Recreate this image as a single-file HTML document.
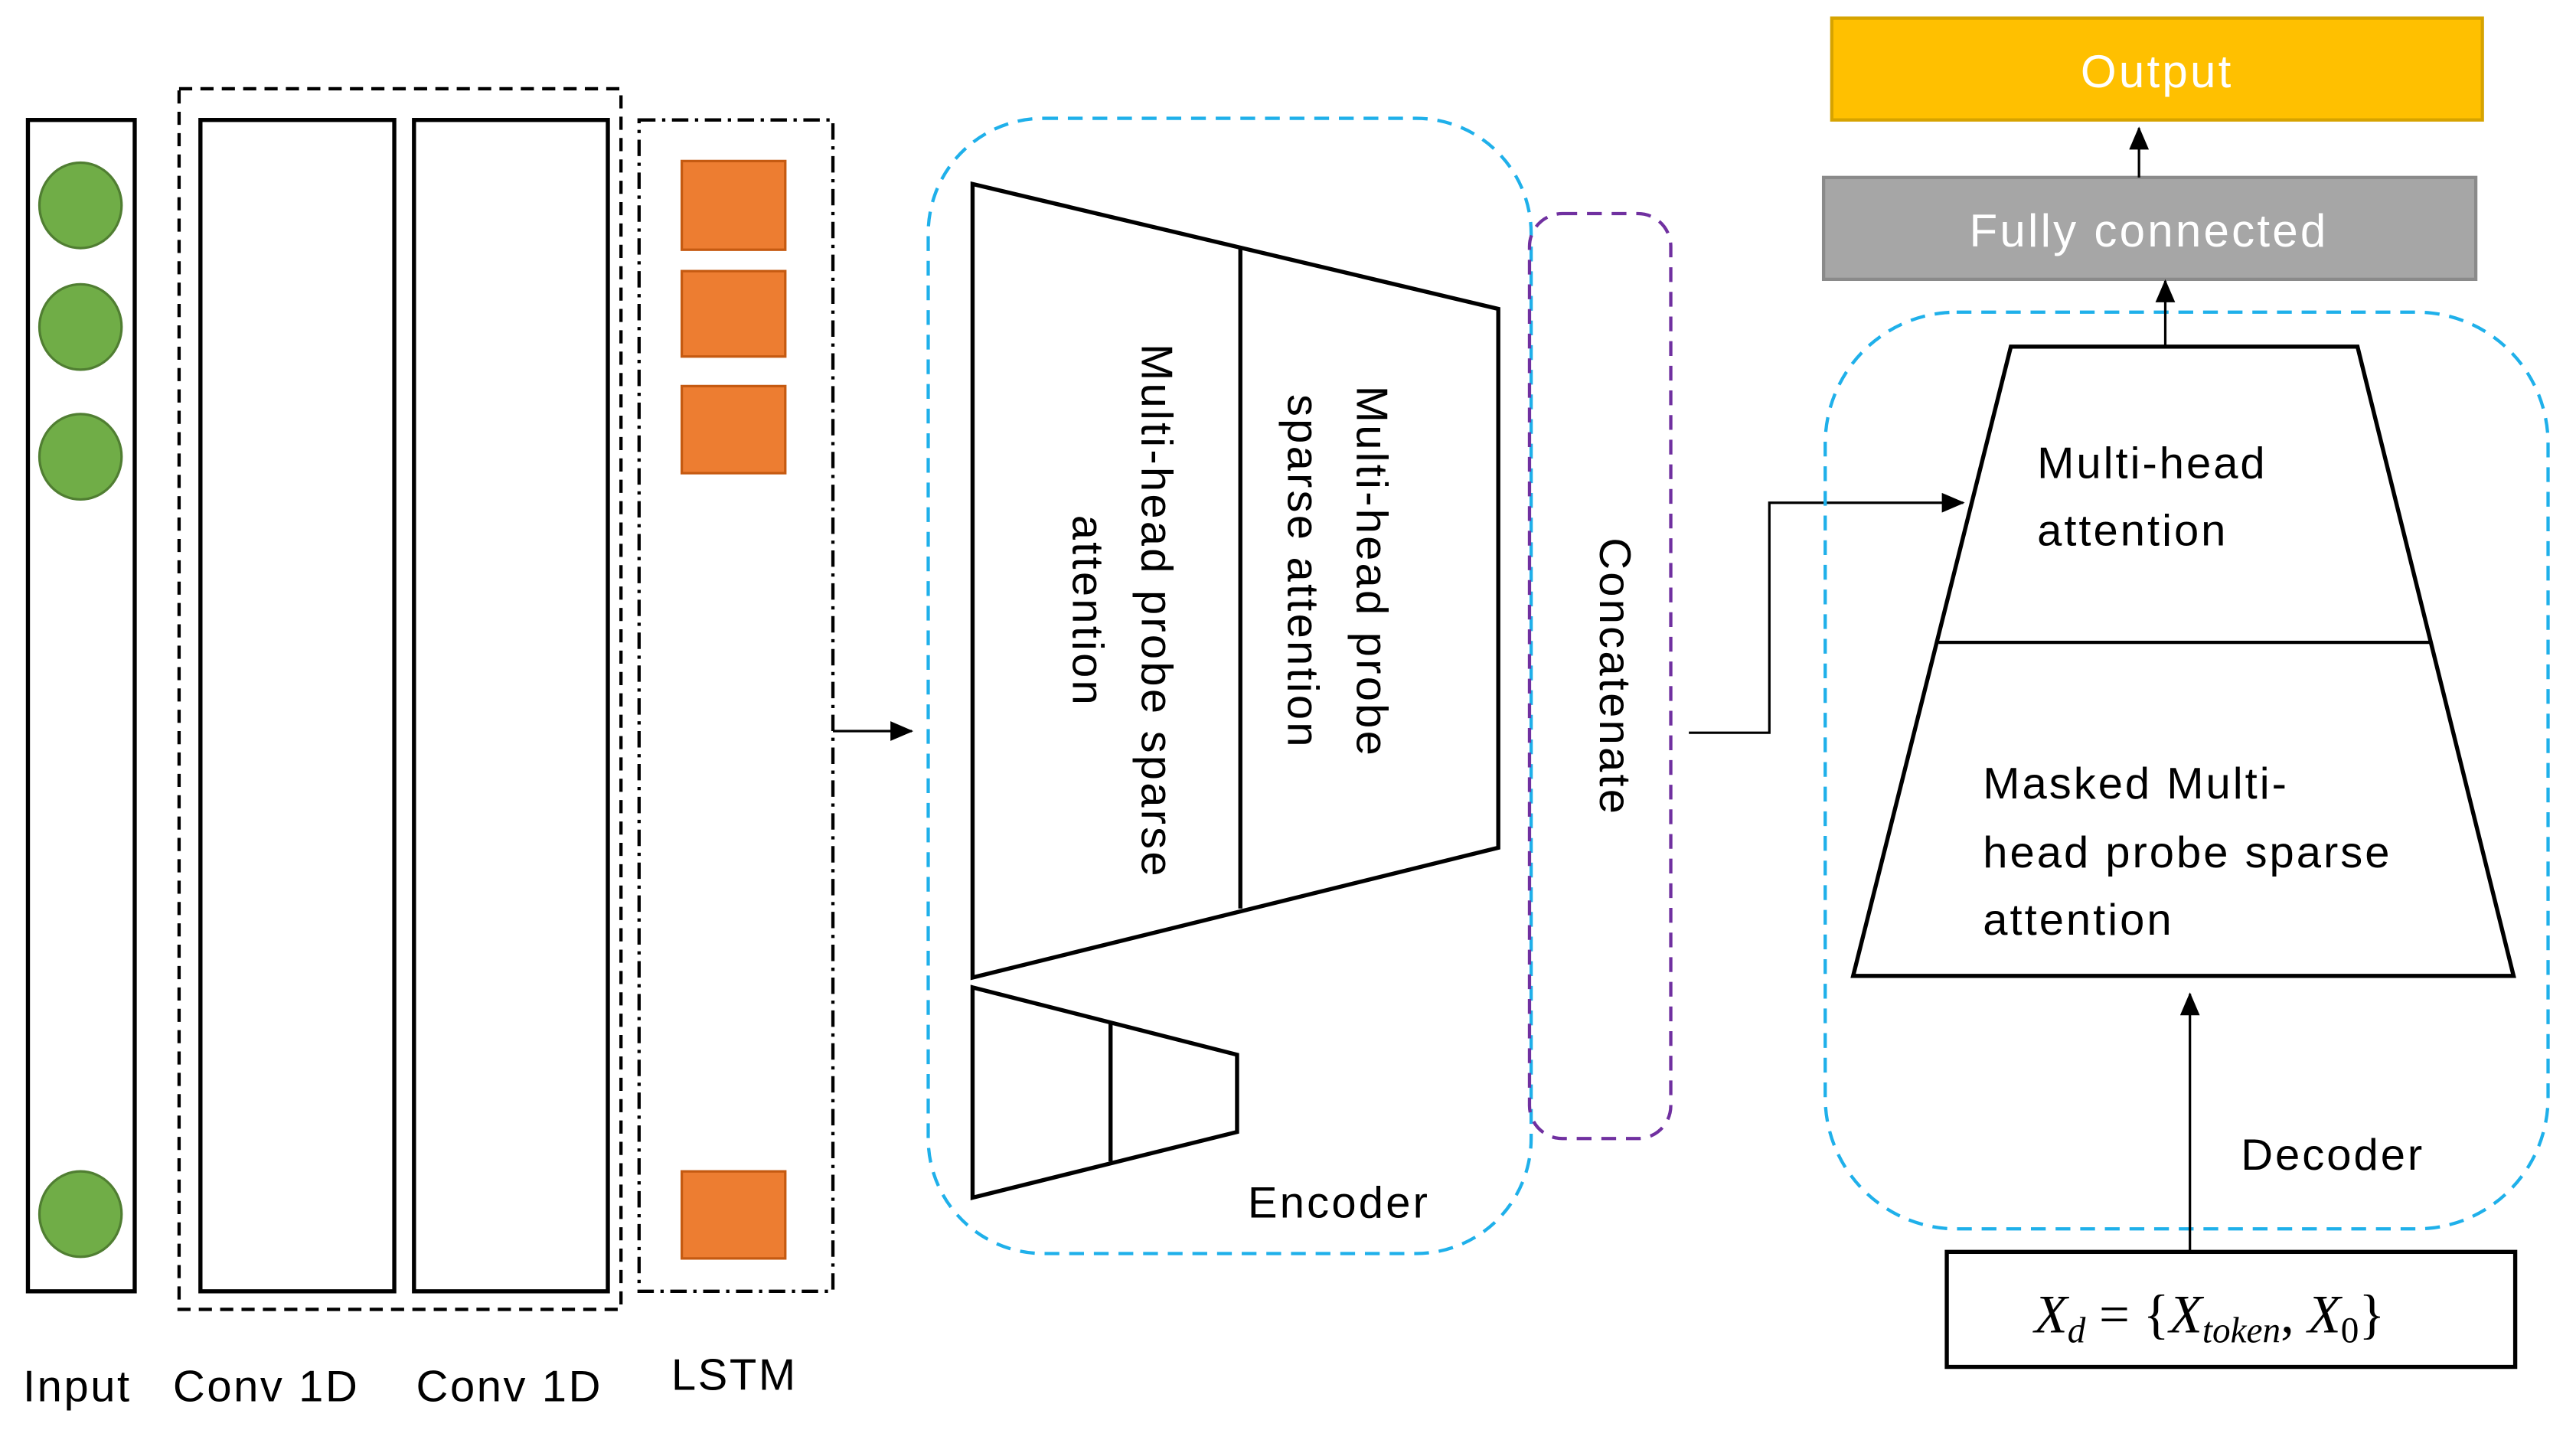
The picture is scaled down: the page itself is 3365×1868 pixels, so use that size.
<!DOCTYPE html>
<html><head><meta charset="utf-8"><style>html,body{margin:0;padding:0;background:#fff}svg{display:block}</style></head>
<body>
<svg width="3365" height="1868" viewBox="0 0 1568 870.4" xmlns="http://www.w3.org/2000/svg" font-family="Liberation Sans, DejaVu Sans, sans-serif">
<defs>
<marker id="ah2" markerWidth="14" markerHeight="12" refX="13" refY="6" orient="auto" markerUnits="userSpaceOnUse"><path d="M0,0 L14,6 L0,12 z" fill="#000"/></marker>
</defs>
<rect width="1568" height="870.4" fill="#fff"/>
<!-- Input -->
<rect x="17" y="73" width="65" height="713" fill="none" stroke="#000" stroke-width="2.5"/>
<g fill="#70AD47" stroke="#507E32" stroke-width="1.5">
<ellipse cx="49" cy="125" rx="25" ry="26"/><ellipse cx="49" cy="199" rx="25" ry="26"/><ellipse cx="49" cy="278" rx="25" ry="26"/><ellipse cx="49" cy="739" rx="25" ry="26"/>
</g>
<!-- Conv -->
<rect x="109" y="54" width="269" height="743" fill="none" stroke="#000" stroke-width="2" stroke-dasharray="8,5"/>
<rect x="122" y="73" width="118" height="713" fill="none" stroke="#000" stroke-width="2.5"/>
<rect x="252" y="73" width="118" height="713" fill="none" stroke="#000" stroke-width="2.5"/>
<!-- LSTM -->
<rect x="389" y="73" width="118" height="713" fill="none" stroke="#000" stroke-width="2" stroke-dasharray="10,4,2,4"/>
<g fill="#ED7D31" stroke="#C55A11" stroke-width="1.5">
<rect x="415" y="98" width="63" height="54"/><rect x="415" y="165" width="63" height="52"/><rect x="415" y="235" width="63" height="53"/><rect x="415" y="713" width="63" height="53"/>
</g>
<line x1="507" y1="445" x2="555" y2="445" stroke="#000" stroke-width="1.5" marker-end="url(#ah2)"/>
<g font-size="27" fill="#000" text-anchor="middle" letter-spacing="1.2">
<text x="47" y="853">Input</text><text x="162" y="853">Conv 1D</text><text x="310" y="853">Conv 1D</text><text x="447" y="846">LSTM</text>
</g>
<!-- Encoder -->
<rect x="565" y="72" width="367" height="691" rx="70" fill="none" stroke="#1FB0EA" stroke-width="2" stroke-dasharray="9,6"/>
<polygon points="592,112 912,188 912,516 592,595" fill="none" stroke="#000" stroke-width="2.5"/>
<line x1="755" y1="151" x2="755" y2="553" stroke="#000" stroke-width="2.5"/>
<polygon points="592,601 753,642 753,689 592,729" fill="none" stroke="#000" stroke-width="2.5"/>
<line x1="676" y1="622" x2="676" y2="707" stroke="#000" stroke-width="2.5"/>
<g font-size="27" fill="#000" text-anchor="middle" letter-spacing="1.5">
<text transform="translate(675,372) rotate(90)"><tspan x="0" y="-20">Multi-head probe sparse</tspan><tspan x="0" y="22">attention</tspan></text>
<text transform="translate(812,348) rotate(90)"><tspan x="0" y="-14">Multi-head probe</tspan><tspan x="0" y="28">sparse attention</tspan></text>
<text x="815" y="741">Encoder</text>
</g>
<!-- Concatenate -->
<rect x="931" y="130" width="86" height="563" rx="20" fill="none" stroke="#7030A0" stroke-width="2" stroke-dasharray="9,6"/>
<text transform="translate(974,412) rotate(90)" font-size="27" letter-spacing="1.5" text-anchor="middle" fill="#000">Concatenate</text>
<polyline points="1028,446 1077,446 1077,306 1195,306" fill="none" stroke="#000" stroke-width="1.5" marker-end="url(#ah2)"/>
<!-- Decoder -->
<rect x="1111" y="190" width="440" height="558" rx="80" fill="none" stroke="#1FB0EA" stroke-width="2" stroke-dasharray="9,6"/>
<rect x="1115" y="11" width="396" height="62" fill="#FFC000" stroke="#D6A300" stroke-width="2"/>
<text x="1313" y="53" font-size="28" letter-spacing="1.5" fill="#fff" text-anchor="middle">Output</text>
<rect x="1110" y="108" width="397" height="62" fill="#A6A6A6" stroke="#8A8A8A" stroke-width="2"/>
<text x="1308" y="150" font-size="28" letter-spacing="1.5" fill="#fff" text-anchor="middle">Fully connected</text>
<line x1="1302" y1="108" x2="1302" y2="78" stroke="#000" stroke-width="1.5" marker-end="url(#ah2)"/>
<line x1="1318" y1="211" x2="1318" y2="171" stroke="#000" stroke-width="1.5" marker-end="url(#ah2)"/>
<polygon points="1224,211 1435,211 1530,594 1128,594" fill="none" stroke="#000" stroke-width="2.5"/>
<line x1="1180" y1="391" x2="1479" y2="391" stroke="#000" stroke-width="2"/>
<g font-size="27" fill="#000" letter-spacing="1.4">
<text x="1240" y="291">Multi-head</text><text x="1240" y="332">attention</text>
<text x="1207" y="486">Masked Multi-</text><text x="1207" y="528">head probe sparse</text><text x="1207" y="569">attention</text>
<text x="1364" y="712">Decoder</text>
</g>
<line x1="1333" y1="762" x2="1333" y2="605" stroke="#000" stroke-width="1.5" marker-end="url(#ah2)"/>
<rect x="1185" y="762" width="346" height="70" fill="none" stroke="#000" stroke-width="2.5"/>
<text x="1345" y="811" font-size="33" font-family="Liberation Serif, DejaVu Serif, serif" text-anchor="middle" fill="#000"><tspan font-style="italic">X</tspan><tspan font-size="22" dy="6" font-style="italic">d</tspan><tspan dy="-6"> = {</tspan><tspan font-style="italic">X</tspan><tspan font-size="22" dy="6" font-style="italic">token</tspan><tspan dy="-6">, </tspan><tspan font-style="italic">X</tspan><tspan font-size="22" dy="6">0</tspan><tspan dy="-6">}</tspan></text>
</svg>
</body></html>
